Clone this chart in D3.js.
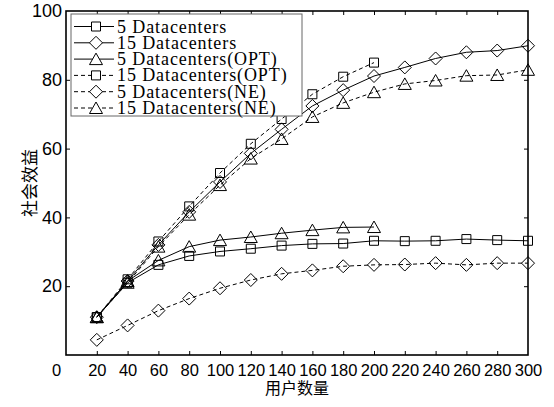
<!DOCTYPE html>
<html>
<head>
<meta charset="utf-8">
<script src="https://cdn.jsdelivr.net/npm/d3@7"></script>
<style>
  body { margin: 0; background: #fff; }
  svg { display: block; }
</style>
</head>
<body>
<div id="chart"></div>
<script>
// users on the x axis
var users = [20, 40, 60, 80, 100, 120, 140, 160, 180, 200, 220, 240, 260, 280, 300];
var usersShort = [20, 40, 60, 80, 100, 120, 140, 160, 180, 200];

// social welfare per series
var dc5 = [11, 21, 26.2, 28.8, 30.1, 30.9, 31.8, 32.3, 32.4, 33.2, 33.1, 33.2, 33.7, 33.4, 33.2];
var dc15 = [11, 21.5, 32, 41.6, 50.3, 58.6, 65.6, 72.4, 77, 81.1, 83.6, 86.2, 88, 88.5, 89.9];
var dc5Opt = [11, 21.5, 27.5, 31.5, 33.4, 34.3, 35.4, 36.3, 37.1, 37.2];
var dc15Opt = [11, 22, 33, 43.2, 52.9, 61.4, 68.6, 75.8, 80.9, 85];
var dc5Ne = [4.4, 8.6, 12.9, 16.4, 19.4, 21.8, 23.6, 24.6, 25.8, 26.2, 26.3, 26.7, 26.2, 26.7, 26.7];
var dc15Ne = [11, 21, 31.5, 40.8, 49.4, 57.1, 62.8, 69.2, 73.3, 76.4, 78.8, 79.8, 81.2, 81.4, 82.9];

var seriesNames = ["5 Datacenters", "15 Datacenters", "5 Datacenters(OPT)",
  "15 Datacenters(OPT)", "5 Datacenters(NE)", "15 Datacenters(NE)"];

var xTicks = [0, 20, 40, 60, 80, 100, 120, 140, 160, 180, 200, 220, 240, 260, 280, 300];
var yTicks = [0, 20, 40, 60, 80, 100];

var series = [
  { name: seriesNames[0], xs: users, ys: dc5, marker: "square", dashed: false },
  { name: seriesNames[1], xs: users, ys: dc15, marker: "diamond", dashed: false },
  { name: seriesNames[2], xs: usersShort, ys: dc5Opt, marker: "triangle", dashed: false },
  { name: seriesNames[3], xs: usersShort, ys: dc15Opt, marker: "square", dashed: true },
  { name: seriesNames[4], xs: users, ys: dc5Ne, marker: "diamond", dashed: true },
  { name: seriesNames[5], xs: users, ys: dc15Ne, marker: "triangle", dashed: true }
];

var W = 554, H = 407;
var margin = { top: 11, right: 26, bottom: 52, left: 66 },
  width = W - margin.left - margin.right,
  height = H - margin.top - margin.bottom;

var svg = d3.select("#chart")
  .append("svg")
  .attr("width", W)
  .attr("height", H)
  .style("font-family", "'Liberation Serif', serif");

var g = svg.append("g")
  .attr("transform", "translate(" + margin.left + "," + margin.top + ")");

var x = d3.scaleLinear().domain([0, 300]).range([0, width]);
var y = d3.scaleLinear().domain([0, 100]).range([height, 0]);

// ticks on all four sides, pointing inward
function styleAxis(sel) {
  sel.select(".domain").remove();
  sel.selectAll(".tick line").attr("stroke", "#000").attr("stroke-width", 1);
  sel.selectAll(".tick text").attr("fill", "#000").style("font-size", "16.5px");
}

var xAxis = g.append("g")
  .attr("transform", "translate(0," + height + ")")
  .call(d3.axisBottom(x).tickValues(xTicks).tickSizeInner(-4).tickSizeOuter(0).tickPadding(9));
styleAxis(xAxis);
xAxis.selectAll(".tick text").filter(function (d) { return d === 0; })
  .attr("dx", -10);
xAxis.selectAll(".tick line").filter(function (d) { return d === 0 || d === 300; }).remove();

var yAxis = g.append("g")
  .call(d3.axisLeft(y).tickValues(yTicks.filter(function (d) { return d > 0; }))
    .tickSizeInner(-4).tickSizeOuter(0).tickPadding(4));
styleAxis(yAxis);
yAxis.selectAll(".tick text").style("font-size", "18px");
yAxis.selectAll(".tick line").filter(function (d) { return d === 100; }).remove();

var topAxis = g.append("g")
  .call(d3.axisTop(x).tickValues(xTicks.slice(1, -1)).tickSizeInner(-4).tickSizeOuter(0).tickFormat(""));
styleAxis(topAxis);

var rightAxis = g.append("g")
  .attr("transform", "translate(" + width + ",0)")
  .call(d3.axisRight(y).tickValues(yTicks.slice(1, -1)).tickSizeInner(-4).tickSizeOuter(0).tickFormat(""));
styleAxis(rightAxis);

// frame
g.append("rect")
  .attr("x", 0).attr("y", 0)
  .attr("width", width).attr("height", height)
  .attr("fill", "none")
  .attr("stroke", "#000")
  .attr("stroke-width", 1.6);

// marker shapes
function markerPath(type) {
  if (type === "square") return "M-4.5,-4.5H4.5V4.5H-4.5Z";
  if (type === "diamond") return "M0,-6.5L6.5,0L0,6.5L-6.5,0Z";
  return "M0,-6L6.5,5.5H-6.5Z";
}

var line = d3.line()
  .x(function (d) { return x(d[0]); })
  .y(function (d) { return y(d[1]); });

series.forEach(function (s) {
  var pts = s.xs.map(function (v, i) { return [v, s.ys[i]]; });
  g.append("path")
    .datum(pts)
    .attr("d", line)
    .attr("fill", "none")
    .attr("stroke", "#000")
    .attr("stroke-width", 1)
    .attr("stroke-dasharray", s.dashed ? "4,3" : null);
  g.selectAll(null)
    .data(pts)
    .enter()
    .append("path")
    .attr("d", markerPath(s.marker))
    .attr("transform", function (d) { return "translate(" + x(d[0]) + "," + y(d[1]) + ")"; })
    .attr("fill", "none")
    .attr("stroke", "#000")
    .attr("stroke-width", 1);
});

// legend
var legend = svg.append("g");
legend.append("rect")
  .attr("x", 71).attr("y", 14)
  .attr("width", 231).attr("height", 102)
  .attr("fill", "#fff")
  .attr("stroke", "#666")
  .attr("stroke-width", 1);

series.forEach(function (s, i) {
  var ly = 26.5 + i * 16.3;
  legend.append("line")
    .attr("x1", 74).attr("x2", 114)
    .attr("y1", ly).attr("y2", ly)
    .attr("stroke", "#000")
    .attr("stroke-width", 1)
    .attr("stroke-dasharray", s.dashed ? "4,3" : null);
  legend.append("path")
    .attr("d", markerPath(s.marker))
    .attr("transform", "translate(96," + ly + ")")
    .attr("fill", "#fff")
    .attr("stroke", "#000");
  legend.append("text")
    .attr("x", 117).attr("y", ly + 6)
    .style("font-size", "18px")
    .style("letter-spacing", "0.9px")
    .text(s.name);
});

// axis titles
svg.append("text")
  .attr("x", margin.left + width / 2)
  .attr("y", 394)
  .attr("text-anchor", "middle")
  .style("font-family", "'Noto Sans CJK SC', sans-serif")
  .style("font-size", "16px")
  .text("用户数量");

svg.append("text")
  .attr("transform", "translate(36," + (margin.top + height / 2) + ") rotate(-90)")
  .attr("text-anchor", "middle")
  .style("font-family", "'Noto Sans CJK SC', sans-serif")
  .style("font-size", "17px")
  .text("社会效益");
</script>
</body>
</html>
